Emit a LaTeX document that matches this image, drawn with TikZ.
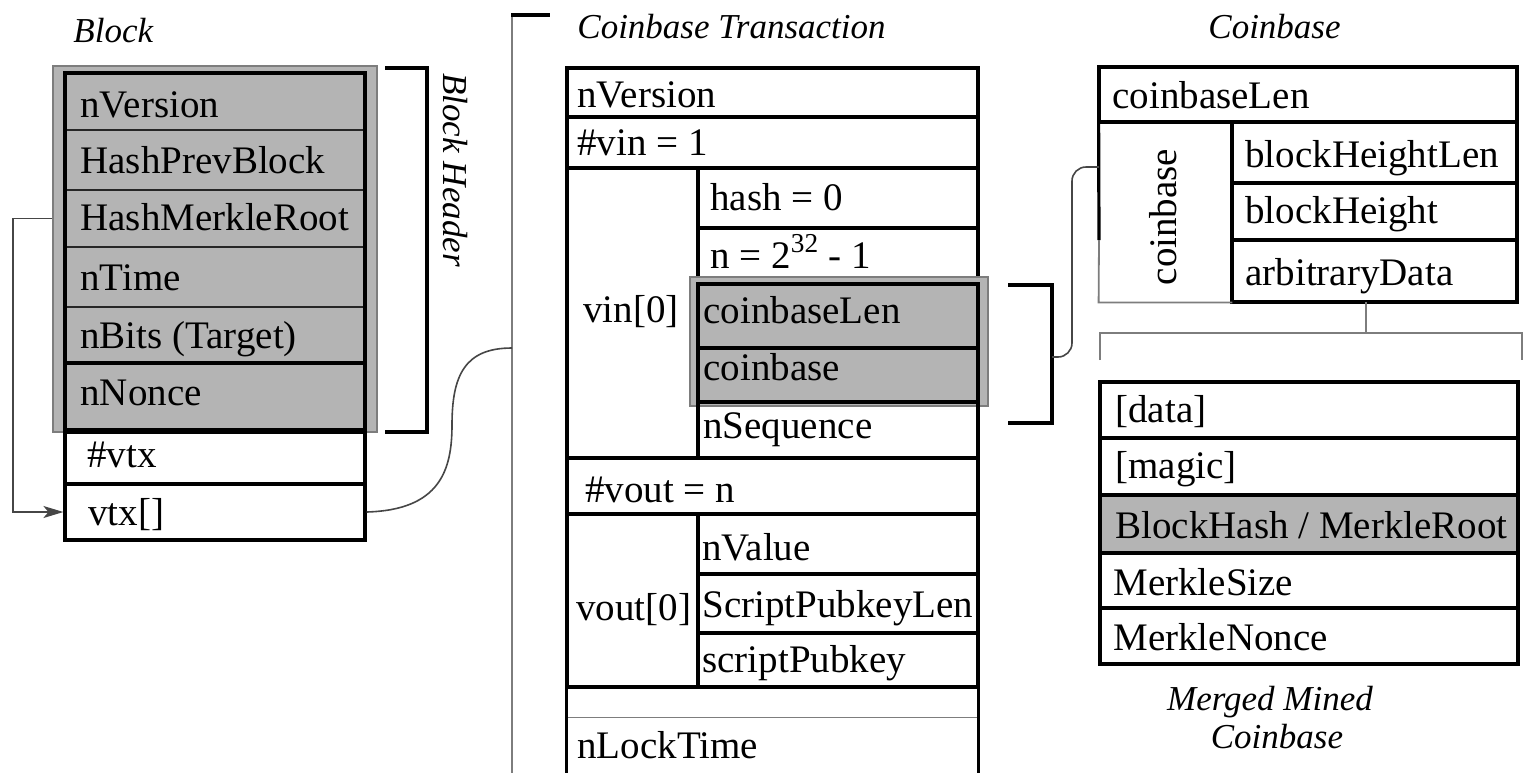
\documentclass[tikz,border=0pt]{standalone}
\usepackage{fontspec}
\setmainfont{Liberation Serif}
\usetikzlibrary{fit,arrows.meta,calc}
\definecolor{cellgray}{RGB}{180,180,180}
\definecolor{edgegray}{RGB}{125,125,125}
\definecolor{wiregray}{RGB}{70,70,70}

\tikzset{
  cell/.style={draw=black, line width=1.6pt, inner sep=0pt},
  bare/.style={draw=none, inner sep=0pt},
  gcell/.style={draw=black!85, line width=1pt, fill=cellgray, inner sep=0pt},
  hilite/.style={draw=edgegray, line width=1.2pt, fill=cellgray, inner sep=0pt},
  heavy/.style={draw=black, line width=1.6pt},
  thinline/.style={draw=edgegray, line width=0.9pt},
  wire/.style={draw=wiregray, line width=0.8pt},
  lbl/.style={anchor=base west, inner sep=0pt, font=\fontsize{19.5}{22}\selectfont},
  ttl/.style={inner sep=0pt, font=\fontsize{17.5}{20}\selectfont\itshape},
}

\begin{document}
\begin{tikzpicture}[x=0.5pt,y=-0.5pt]
\useasboundingbox (0,0) rectangle (1532,772);
\clip (0,0) rectangle (1532,772);

% ---------------- Block ----------------
\node[ttl, anchor=base west] (t-block) at (73,42) {Block};
\node[hilite, fit={(53,66)(377,432)}] (hdr) {};
\node[gcell, fit={(65,73)(365,130)}]  (b-ver)   {};
\node[gcell, fit={(65,130)(365,190)}] (b-prev)  {};
\node[gcell, fit={(65,190)(365,247)}] (b-mrk)   {};
\node[gcell, fit={(65,247)(365,307)}] (b-time)  {};
\node[gcell, fit={(65,307)(365,363)}] (b-bits)  {};
\node[gcell, fit={(65,363)(365,430)}, draw=black, line width=1.6pt] (b-nonce) {};
\node[cell, fit={(65,432)(365,484)}]  (b-ntx)   {};
\node[cell, fit={(65,484)(365,540)}]  (b-vtx)   {};
\node[cell, fit={(65,73)(365,540)}]   (b-frame) {};

\node[lbl] (l-bver)   at (80,117) {nVersion};
\node[lbl] (l-bprev)  at (80,173) {HashPrevBlock};
\node[lbl] (l-bmrk)   at (80,230) {HashMerkleRoot};
\node[lbl] (l-btime)  at (80,290) {nTime};
\node[lbl] (l-bbits)  at (80,348) {nBits (Target)};
\node[lbl] (l-bnonce) at (80,405) {nNonce};
\node[lbl] (l-bntx)   at (87,467) {\#vtx};
\node[lbl] (l-bvtx)   at (88,525) {vtx[]};

% header bracket and its label
\draw[heavy] (385,68) -| (427,432) -- (385,432);
\node[ttl, rotate=-90] (t-hdr) at (455,170) {Block Header};

% merkle root points back to the transaction list
\draw[wire, -{Stealth[length=10pt,width=6pt,inset=2.5pt]}]
  (hdr.west |- b-mrk.west) -- ++(-39,0) |- (b-vtx.west);

% ---------------- Coinbase transaction ----------------
\draw[edgegray, line width=1.2pt] (512,15) -- (512,790);
\draw[heavy] (511,15) -- (550,15);
\coordinate (txbr-in) at (512,348);
\draw[wire] (b-vtx.east) .. controls (440,510) and (452,470) .. (452,425)
  .. controls (452,375) and (465,348) .. (txbr-in);

\node[ttl, anchor=base west] (t-tx) at (577,38) {Coinbase Transaction};

\node[cell, fit={(567,68)(978,117)}]  (t-ver)   {};
\node[cell, fit={(567,117)(978,168)}] (t-vin)   {};
\node[cell, fit={(567,168)(698,458)}] (t-vin0)  {};
\node[cell, fit={(698,168)(978,228)}] (t-hash)  {};
\node[cell, fit={(698,228)(978,284)}] (t-n)     {};
\node[hilite, fit={(690,277)(988,406)}] (t-hl) {};
\node[cell, fit={(698,284)(978,348)}] (t-cblen) {};
\node[cell, fit={(698,348)(978,402)}] (t-cb)    {};
\node[cell, fit={(698,402)(978,458)}] (t-seq)   {};
\node[cell, fit={(567,458)(978,514)}] (t-vout)  {};
\node[cell, fit={(567,514)(698,687)}] (t-vout0) {};
\node[cell, fit={(698,514)(978,574)}] (t-val)   {};
\node[cell, fit={(698,574)(978,633)}] (t-spl)   {};
\node[cell, fit={(698,633)(978,687)}] (t-sp)    {};
\node[bare, fit={(567,687)(978,717)}] (t-gap)   {};
\node[bare, fit={(567,717)(978,800)}] (t-lock)  {};
\draw[thinline] (t-gap.south west) -- (t-gap.south east);
\draw[heavy] (t-gap.south west) -- (t-gap.north west) -- (t-gap.north east) -- (t-gap.south east);
\draw[heavy] (t-lock.north west) -- (t-lock.south west);
\draw[heavy] (t-lock.north east) -- (t-lock.south east);

\node[lbl] (l-tver)   at (577,107) {nVersion};
\node[lbl] (l-tvin)   at (577,155) {\#vin = 1};
\node[lbl] (l-tvin0)  at (583,322) {vin[0]};
\node[lbl] (l-thash)  at (710,210) {hash = 0};
\node[lbl] (l-tn)     at (710,268) {n = 2\textsuperscript{32} - 1};
\node[lbl] (l-tcblen) at (703,323) {coinbaseLen};
\node[lbl] (l-tcb)    at (703,380) {coinbase};
\node[lbl] (l-tseq)   at (703,438) {nSequence};
\node[lbl] (l-tvout)  at (585,502) {\#vout = n};
\node[lbl] (l-tvout0) at (576,620) {vout[0]};
\node[lbl] (l-tval)   at (702,560) {nValue};
\node[lbl] (l-tspl)   at (702,617) {ScriptPubkeyLen};
\node[lbl] (l-tsp)    at (702,672) {scriptPubkey};
\node[lbl] (l-tlock)  at (577,758) {nLockTime};

% bracket round the coinbase fields
\draw[heavy] (1008,285) -| (1052,423) -- (1008,423);
\coordinate (cbbr-out) at (1052,357);

% ---------------- Coinbase ----------------
\node[ttl, anchor=base west] (t-cbase) at (1208,38) {Coinbase};

\node[cell, fit={(1099,67)(1517,122)}]   (c-len) {};
\node[bare, fit={(1099,122)(1232,302)}]  (c-col) {};
\node[cell, fit={(1232,122)(1517,183)}]  (c-bhl) {};
\node[cell, fit={(1232,183)(1517,240)}]  (c-bh)  {};
\node[cell, fit={(1232,240)(1517,302)}]  (c-arb) {};
\draw[heavy] (c-col.north west) -- (1099,240);
\draw[thinline] (1099,240) -- (c-col.south west) -- (c-col.south east);

\coordinate (cb-in) at (1099,167);
\draw[wire, rounded corners=7pt] (cbbr-out) -| (1072,167) -- (cb-in);

\node[lbl] (l-clen) at (1112,108) {coinbaseLen};
\node[lbl] (l-cbhl) at (1245,167) {blockHeightLen};
\node[lbl] (l-cbh)  at (1245,223) {blockHeight};
\node[lbl] (l-carb) at (1245,285) {arbitraryData};
\node[inner sep=0pt, rotate=90, font=\fontsize{19.5}{22}\selectfont] (l-ccol) at (1163,217) {coinbase};

% expansion of the arbitrary data
\draw[thinline] (1366,302) -- (1366,333);
\draw[thinline] (1100,360) -- (1100,333) -- (1522,333) -- (1522,360);

% ---------------- Merged mined coinbase ----------------
\node[cell, fit={(1100,382)(1518,438)}] (m-data)  {};
\node[cell, fit={(1100,438)(1518,495)}] (m-magic) {};
\node[cell, fill=cellgray, fit={(1100,495)(1518,553)}] (m-hash) {};
\node[cell, fit={(1100,553)(1518,608)}] (m-size)  {};
\node[cell, fit={(1100,608)(1518,664)}] (m-nonce) {};

\node[lbl] (l-mdata)  at (1115,422) {[data]};
\node[lbl] (l-mmagic) at (1115,478) {[magic]};
\node[lbl] (l-mhash)  at (1115,538) {BlockHash / MerkleRoot};
\node[lbl] (l-msize)  at (1113,595) {MerkleSize};
\node[lbl] (l-mnonce) at (1113,650) {MerkleNonce};

\node[ttl, anchor=base] (t-mm1) at (1270,710) {Merged Mined};
\node[ttl, anchor=base] (t-mm2) at (1277,748) {Coinbase};
\end{tikzpicture}
\end{document}
